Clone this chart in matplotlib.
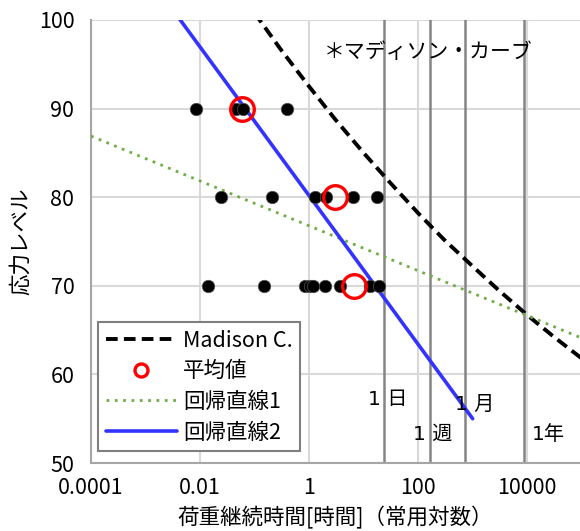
import numpy as np
import matplotlib
matplotlib.use("Agg")
import matplotlib.pyplot as plt

plt.rcParams['font.family'] = ['Noto Sans CJK JP', 'DejaVu Sans']

# test data: load duration [h] at each stress level
t_90 = [0.0083, 0.0458, 0.0622, 0.40]
t_80 = [0.024, 0.212, 1.29, 2.02, 6.5, 17.9]
t_70 = [0.0142, 0.149, 0.845, 1.02, 1.17, 1.97, 3.7, 13.2, 19.5]

# mean values (red rings)
mean_t = [0.0582, 3.0, 6.8]
mean_level = [90, 80, 70]

# Madison curve
madison_t = [0.1, 0.3, 1, 3, 10, 30, 100, 300, 1000, 3000, 10000, 30000, 100000]
madison_level = [100.8, 96.7, 92.5, 88.8, 85.0, 81.7, 78.2, 75.2, 72.2, 69.5, 66.7, 64.3, 61.8]

# regression lines (end points)
reg1_t = [0.0001, 100000]
reg1_level = [86.9, 64.1]
reg2_t = [0.004, 1000]
reg2_level = [100.3, 55.0]

# duration markers [h]
event_t = [24, 168, 720, 8760]
event_labels = ["1 日", "1 週", "1 月", "1年"]

xticks = [0.0001, 0.01, 1, 100, 10000]
xtick_labels = ["0.0001", "0.01", "1", "100", "10000"]
yticks = [50, 60, 70, 80, 90, 100]

fig = plt.figure(figsize=(5.8, 5.31), dpi=100)
ax = fig.add_axes([91 / 580, 68 / 531, 489 / 580, 443 / 531])

ax.set_xscale("log")
ax.set_xlim(0.0001, 93000)
ax.set_ylim(50, 100)
ax.set_xticks(xticks)
ax.set_xticklabels(xtick_labels)
ax.minorticks_off()
ax.set_yticks(yticks)

for lab in ax.get_xticklabels() + ax.get_yticklabels():
    lab.set_fontsize(15.5)
ax.tick_params(axis="both", length=0)
ax.tick_params(axis="y", pad=12)
ax.tick_params(axis="x", pad=10)

ax.grid(True, color="#d9d9d9", lw=1.5, zorder=0)
ax.set_axisbelow(True)
for s in ["top", "right"]:
    ax.spines[s].set_visible(False)
for s in ["left", "bottom"]:
    ax.spines[s].set_color("#a6a6a6")
    ax.spines[s].set_linewidth(1.5)

for t in event_t:
    ax.axvline(t, color="#858585", lw=1.8, zorder=1)

label_pos = [(28, 57.2), (188, 53.2), (1110, 56.6), (24000, 53.2)]
for txt, (x, y) in zip(event_labels, label_pos):
    ax.text(x, y, txt, fontsize=14.5, ha="center", va="center", zorder=5,
            family=['DejaVu Sans', 'Noto Sans CJK JP'])

ax.text(151, 96.4, "＊マディソン・カーブ", fontsize=15, ha="center", va="center")

ax.plot(madison_t, madison_level, color="black", lw=2.8, dashes=(3, 1.6),
        label="Madison C.", zorder=3)
ax.plot(reg1_t, reg1_level, color="#70ad47", lw=2.0, dashes=(1, 2),
        label="回帰直線1", zorder=3)
ax.plot(reg2_t, reg2_level, color="#3333ff", lw=2.6, solid_capstyle="round",
        label="回帰直線2", zorder=3)

for ts, lvl in [(t_90, 90), (t_80, 80), (t_70, 70)]:
    ax.plot(ts, [lvl] * len(ts), "o", color="black", ms=9, mec="#555555",
            mew=0.5, zorder=4)

ring, = ax.plot(mean_t, mean_level, "o", ms=17, mfc="none", mec="#ff0000",
                mew=2.4, label="平均値", zorder=6)

h, l = ax.get_legend_handles_labels()
order = [l.index(k) for k in ["Madison C.", "平均値", "回帰直線1", "回帰直線2"]]
leg = ax.legend([h[i] for i in order], [l[i] for i in order],
                loc="lower left", bbox_to_anchor=(0.0143, 0.027),
                borderaxespad=0, fontsize=15.5, fancybox=False,
                edgecolor="#7f7f7f", framealpha=1, handlelength=3.3,
                handletextpad=0.3, labelspacing=0.4, borderpad=0.35,
                markerscale=0.55)
leg.get_frame().set_linewidth(1.5)
leg.set_zorder(7)

ax.set_xlabel("荷重継続時間[時間]（常用対数）", fontsize=15.5, labelpad=5)
ax.set_ylabel("応力レベル", fontsize=15.5)
ax.yaxis.set_label_coords(-0.12, 0.5)

fig.savefig("out.png", dpi=100)
